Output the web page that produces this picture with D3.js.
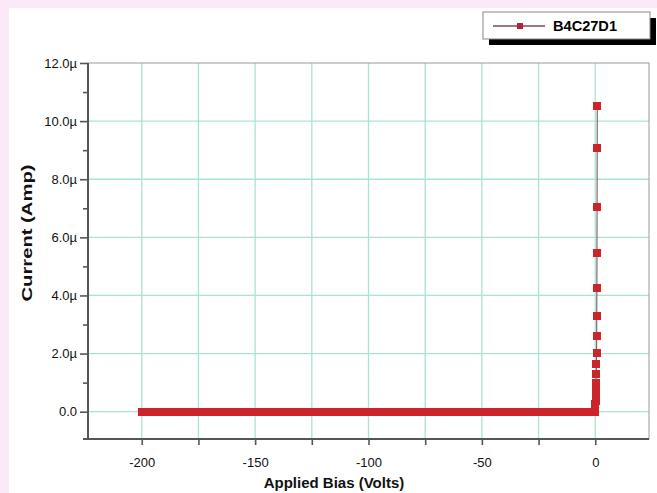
<!DOCTYPE html>
<html><head><meta charset="utf-8">
<script src="https://cdn.jsdelivr.net/npm/d3@7/dist/d3.min.js"></script>
<style>html,body{margin:0;padding:0;background:#fbe9fa}svg{display:block}</style>
</head><body>
<script>
// ---- data (current in µA, bias in volts) ----
const seriesName = "B4C27D1";
const negBias = [-200,-197.5,-195,-192.5,-190,-187.5,-185,-182.5,-180,-177.5,-175,-172.5,-170,-167.5,-165,-162.5,-160,-157.5,-155,-152.5,-150,-147.5,-145,-142.5,-140,-137.5,-135,-132.5,-130,-127.5,-125,-122.5,-120,-117.5,-115,-112.5,-110,-107.5,-105,-102.5,-100,-97.5,-95,-92.5,-90,-87.5,-85,-82.5,-80,-77.5,-75,-72.5,-70,-67.5,-65,-62.5,-60,-57.5,-55,-52.5,-50,-47.5,-45,-42.5,-40,-37.5,-35,-32.5,-30,-27.5,-25,-22.5,-20,-17.5,-15,-12.5,-10,-7.5,-5,-2.5];
const negCurrent = [-0.02,-0.02,-0.02,-0.02,-0.02,-0.02,-0.02,-0.02,-0.02,-0.02,-0.02,-0.02,-0.02,-0.02,-0.02,-0.02,-0.02,-0.02,-0.02,-0.02,-0.02,-0.02,-0.02,-0.02,-0.02,-0.02,-0.02,-0.02,-0.02,-0.02,-0.02,-0.02,-0.02,-0.02,-0.02,-0.01,-0.01,-0.01,-0.01,-0.01,-0.01,-0.01,-0.01,-0.01,-0.01,-0.01,-0.01,-0.01,-0.01,-0.01,-0.01,-0.01,-0.01,-0.01,-0.01,-0.01,-0.01,-0.01,-0.01,-0.01,-0.01,-0.01,-0.01,0.0,0.0,0.0,0.0,0.0,0.0,0.0,0.0,0.0,0.0,0.0,0.0,0.0,0.0,0.0,0.0,0.0];
const posBias = [0,0.05,0.1,0.15,0.2,0.25,0.3,0.35,0.4,0.45,0.5,0.55,0.6,0.65,0.7,0.75,0.8,0.85,0.9];
const posCurrent = [0.0,0.12,0.25,0.38,0.5,0.62,0.75,0.88,0.98,1.3,1.63,2.02,2.6,3.31,4.24,5.46,7.05,9.06,10.52];

const xTickValues = [-200,-175,-150,-125,-100,-75,-50,-25,0];
const xLabelValues = [-200,-150,-100,-50,0];
const yTickValues = [0,2,4,6,8,10,12];
const yTickLabels = ["0.0","2.0µ","4.0µ","6.0µ","8.0µ","10.0µ","12.0µ"];
const yMinorValues = [1,3,5,7,9,11];
const yGridValues = [0,2,4,6,8,10];
const xTitle = "Applied Bias (Volts)";
const yTitle = "Current (Amp)";

// ---- layout ----
const W = 657, H = 493;
const svg = d3.select("body").append("svg").attr("width", W).attr("height", H);
svg.append("rect").attr("x", 9).attr("y", 8).attr("width", W - 9).attr("height", H - 8).attr("fill", "#ffffff");

const x = d3.scaleLinear().domain([-223.7, 23.7]).range([88, 649]);
const y = d3.scaleLinear().domain([-0.94, 12]).range([439, 63]);
const font = "Arial, 'Liberation Sans', sans-serif";

// grid
const grid = svg.append("g").attr("stroke", "#a9e3d6").attr("stroke-width", 1.3);
grid.selectAll(".gx").data(xTickValues).join("line")
  .attr("x1", d => x(d)).attr("x2", d => x(d)).attr("y1", y.range()[0]).attr("y2", y.range()[1]);
grid.selectAll(".gy").data(yGridValues).join("line")
  .attr("y1", d => y(d)).attr("y2", d => y(d)).attr("x1", x.range()[0]).attr("x2", x.range()[1]);

// frame
svg.append("rect").attr("x", x.range()[0]).attr("y", y.range()[1])
  .attr("width", x.range()[1] - x.range()[0]).attr("height", y.range()[0] - y.range()[1])
  .attr("fill", "none").attr("stroke", "#9a9a9a").attr("stroke-width", 1);

// y axis
const yAxis = svg.append("g").attr("transform", `translate(${x.range()[0]},0)`)
  .call(d3.axisLeft(y).tickValues(yTickValues).tickSize(8).tickPadding(3)
    .tickFormat((d, i) => yTickLabels[i]));
const yMinor = svg.append("g").attr("transform", `translate(${x.range()[0]},0)`)
  .call(d3.axisLeft(y).tickValues(yMinorValues).tickSize(5).tickFormat(""));
// x axis
const xAxis = svg.append("g").attr("transform", `translate(0,${y.range()[0]})`)
  .call(d3.axisBottom(x).tickValues(xTickValues).tickSize(6).tickPadding(13)
    .tickFormat(d => xLabelValues.includes(d) ? d3.format("d")(d).replace("−", "-") : ""));
[yAxis, yMinor, xAxis].forEach(g => {
  g.select(".domain").remove();
  g.selectAll(".tick line").attr("stroke", "#555").attr("stroke-width", 1.6);
  g.selectAll(".tick text").attr("fill", "#111").attr("font-family", font).attr("font-size", 13);
});
// axis lines
svg.append("line").attr("x1", x.range()[0]).attr("x2", x.range()[0])
  .attr("y1", y.range()[1]).attr("y2", y.range()[0] + 1).attr("stroke", "#555").attr("stroke-width", 2);
svg.append("line").attr("x1", x.range()[0] - 5).attr("x2", x.range()[1])
  .attr("y1", y.range()[0]).attr("y2", y.range()[0]).attr("stroke", "#555").attr("stroke-width", 2);

// titles
svg.append("text").attr("x", 334).attr("y", 488).attr("text-anchor", "middle")
  .attr("font-family", font).attr("font-weight", "bold").attr("font-size", 15).attr("fill", "#111").text(xTitle);
svg.append("text").attr("transform", "translate(32,233) rotate(-90)").attr("text-anchor", "middle")
  .attr("font-family", font).attr("font-weight", "bold").attr("font-size", 15).attr("fill", "#111")
  .attr("textLength", 137).attr("lengthAdjust", "spacingAndGlyphs").text(yTitle);

// series
const pts = negBias.map((b, i) => [b, negCurrent[i]]).concat(posBias.map((b, i) => [b, posCurrent[i]]));
svg.append("path").datum(pts).attr("fill", "none").attr("stroke", "#806a70").attr("stroke-width", 1.2)
  .attr("d", d3.line().x(d => x(d[0])).y(d => y(d[1])));
const ms = 8;
svg.append("g").attr("shape-rendering", "crispEdges").selectAll("rect").data(pts).join("rect")
  .attr("x", d => x(d[0]) - ms / 2).attr("y", d => y(d[1]) - ms / 2)
  .attr("width", ms).attr("height", ms).attr("fill", "#cc2428");

// legend
const lg = svg.append("g");
lg.append("rect").attr("x", 489).attr("y", 18).attr("width", 167).attr("height", 27).attr("fill", "#000");
lg.append("rect").attr("x", 483).attr("y", 12).attr("width", 167).attr("height", 27)
  .attr("fill", "#fff").attr("stroke", "#888").attr("stroke-width", 1);
lg.append("line").attr("x1", 493).attr("x2", 545).attr("y1", 26).attr("y2", 26).attr("stroke", "#7a4a55").attr("stroke-width", 1.5);
lg.append("rect").attr("x", 517).attr("y", 23).attr("width", 6).attr("height", 6).attr("fill", "#b0203a");
lg.append("text").attr("x", 553).attr("y", 31).attr("font-family", font).attr("font-weight", "bold")
  .attr("font-size", 14).attr("fill", "#000").attr("textLength", 64).attr("lengthAdjust", "spacingAndGlyphs").text(seriesName);
</script>
</body></html>
